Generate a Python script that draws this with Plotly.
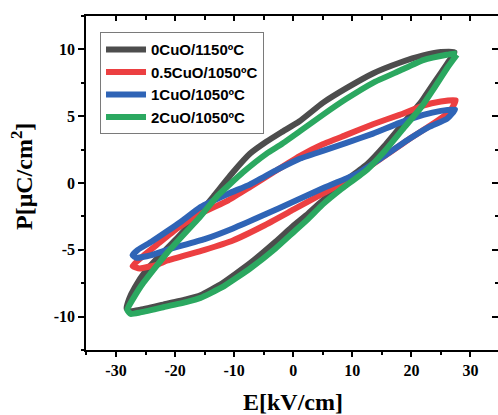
import plotly.graph_objects as go

# ---- data ----
names = ["0CuO/1150ºC", "0.5CuO/1050ºC", "1CuO/1050ºC", "2CuO/1050ºC"]
colors = ["#4d4d4d", "#ec3f41", "#2f64b6", "#2ba860"]

# 0CuO/1150ºC : upper branch (E decreasing) then lower branch (E increasing)
E_0cuo = [27.3, 25, 22, 18, 13.5, 9, 5, 1, -2, -4.5, -7.3, -10.2, -13.5, -16.5, -19.6, -22.5, -25, -26.8, -27.8, -28.2,
          -27.6, -26, -22, -18, -15.7, -12, -7.3, -3, 0, 2.5, 5, 8, 12.5, 15.5, 18.5, 21.7, 24, 26, 27.3]
P_0cuo = [9.8, 9.8, 9.55, 9.0, 8.2, 7.1, 6.0, 4.6, 3.8, 3.1, 2.2, 0.8, -1.0, -2.6, -4.1, -5.4, -6.6, -7.8, -8.7, -9.4,
          -9.6, -9.5, -9.1, -8.7, -8.4, -7.5, -6.0, -4.4, -3.2, -2.3, -1.3, -0.1, 1.4, 2.8, 4.4, 6.1, 7.6, 8.9, 9.8]

# 0.5CuO/1050ºC
E_05cuo = [27.5, 25, 22, 18, 13.5, 9, 5, 1, -3, -7.3, -11, -15.7, -19.6, -23, -25.5, -27.2,
           -26, -23, -21.3, -15, -10.2, -5, 0, 5, 10.8, 16.4, 20, 23.2, 26.6, 27.5]
P_05cuo = [6.2, 6.1, 5.8, 5.1, 4.4, 3.6, 2.9, 2.0, 0.9, -0.3, -1.3, -2.3, -3.4, -4.6, -5.5, -6.2,
           -6.4, -6.1, -5.8, -5.0, -4.3, -3.2, -2.0, -0.8, 0.6, 2.3, 3.4, 4.3, 5.4, 6.2]

# 1CuO/1050ºC
E_1cuo = [27.4, 25, 22, 18, 13.5, 9, 5, 1, -2.7, -7.3, -11, -15.7, -19, -21.3, -24, -26.3, -27.2,
          -26.5, -24, -21.3, -15, -10.2, -5, 0, 5, 10.8, 15, 19.3, 23, 26, 27.4]
P_1cuo = [5.5, 5.4, 5.1, 4.5, 3.7, 3.0, 2.4, 1.8, 1.0, -0.1, -0.8, -1.8, -2.9, -3.6, -4.4, -5.0, -5.4,
          -5.6, -5.4, -5.0, -4.2, -3.4, -2.4, -1.4, -0.4, 0.7, 1.9, 3.2, 4.2, 4.8, 5.5]

# 2CuO/1050ºC
E_2cuo = [27.7, 26, 22, 18, 13.5, 9, 5, 1.2, -2, -4.5, -8.5, -12.9, -15.7, -21.3, -25.9, -28.1,
          -27.5, -26, -22, -18, -15.7, -12, -7.3, -3, 0, 2.5, 5, 8, 12.5, 15.5, 18.5, 21.7, 24, 26.2, 27.7]
P_2cuo = [9.7, 9.6, 9.2, 8.4, 7.5, 6.3, 5.1, 3.9, 2.9, 2.2, 0.8, -1.0, -2.5, -5.2, -7.8, -9.5,
          -9.8, -9.7, -9.3, -8.9, -8.6, -7.8, -6.4, -4.9, -3.7, -2.7, -1.6, -0.5, 1.0, 2.4, 4.0, 5.7, 7.2, 8.7, 9.6]

E_series = [E_0cuo, E_05cuo, E_1cuo, E_2cuo]
P_series = [P_0cuo, P_05cuo, P_1cuo, P_2cuo]

x_ticks = [-30, -20, -10, 0, 10, 20, 30]
y_ticks = [-10, -5, 0, 5, 10]

x_title = "E[kV/cm]"
y_title = "P[μC/cm<sup>2</sup>]"

# ---- figure ----
fig = go.Figure()
for i, (name, col, E, P) in enumerate(zip(names, colors, E_series, P_series)):
    # the last series goes on the overlaid (top/right) axes so that they are drawn
    xa, ya = ("x2", "y2") if i == len(names) - 1 else ("x", "y")
    fig.add_trace(go.Scatter(x=E, y=P, mode="lines", name="<b>" + name + "</b>",
                             xaxis=xa, yaxis=ya,
                             line=dict(color=col, width=6, shape="spline", smoothing=0.4)))

tickfont = dict(family="Liberation Serif", size=16, color="black")
xr = [-35.08, 34.66]
yr = [-12.5, 12.5]

fig.update_layout(
    width=498, height=415,
    margin=dict(l=86, r=0, t=16, b=65),
    plot_bgcolor="white", paper_bgcolor="white",
    showlegend=True,
    legend=dict(x=0.034, y=0.951, xanchor="left", yanchor="top",
                bgcolor="white", bordercolor="#7a7a7a", borderwidth=1,
                font=dict(family="Liberation Sans", size=15, color="black"),
                itemwidth=40, tracegroupgap=0),
    xaxis=dict(range=xr, tickvals=x_ticks, ticktext=["<b>%d</b>" % v for v in x_ticks],
               ticks="outside", ticklen=5, tickwidth=1.5, tickcolor="black",
               showline=True, linecolor="black", linewidth=1.5, mirror=False,
               showgrid=False, zeroline=False, tickfont=tickfont,
               minor=dict(dtick=5, tick0=0, ticks="outside", ticklen=3, tickwidth=1.5, tickcolor="black")),
    yaxis=dict(range=yr, tickvals=y_ticks, ticktext=["<b>%d</b>" % v for v in y_ticks],
               ticks="outside", ticklen=6, tickwidth=1.5, tickcolor="black",
               showline=True, linecolor="black", linewidth=1.5, mirror=False,
               showgrid=False, zeroline=False, tickfont=tickfont,
               minor=dict(dtick=2.5, tick0=0, ticks="outside", ticklen=3, tickwidth=1.5, tickcolor="black")),
    xaxis2=dict(range=xr, overlaying="x", side="top", anchor="y2",
                tickvals=x_ticks, showticklabels=False,
                ticks="inside", ticklen=5, tickwidth=1.5, tickcolor="black",
                showline=True, linecolor="black", linewidth=1.5,
                showgrid=False, zeroline=False,
                minor=dict(dtick=5, tick0=0, ticks="inside", ticklen=4, tickwidth=1.5, tickcolor="black")),
    yaxis2=dict(range=yr, overlaying="y", side="right", anchor="x2",
                tickvals=y_ticks, showticklabels=False,
                ticks="inside", ticklen=6, tickwidth=1.5, tickcolor="black",
                showline=False, showgrid=False, zeroline=False,
                minor=dict(dtick=2.5, tick0=0, ticks="inside", ticklen=3, tickwidth=1.5, tickcolor="black")),
)

fig.add_annotation(text="<b>" + x_title + "</b>", xref="paper", yref="paper",
                   x=0.502, y=(350 - 402) / 334, xanchor="center", yanchor="middle",
                   showarrow=False, font=dict(family="Liberation Serif", size=24, color="black"))
fig.add_annotation(text="<b>" + y_title + "</b>", xref="paper", yref="paper",
                   x=(22 - 86) / 412, y=(350 - 177) / 334, xanchor="center", yanchor="middle",
                   textangle=-90, showarrow=False,
                   font=dict(family="Liberation Serif", size=24, color="black"))

fig.write_html("out.html")
